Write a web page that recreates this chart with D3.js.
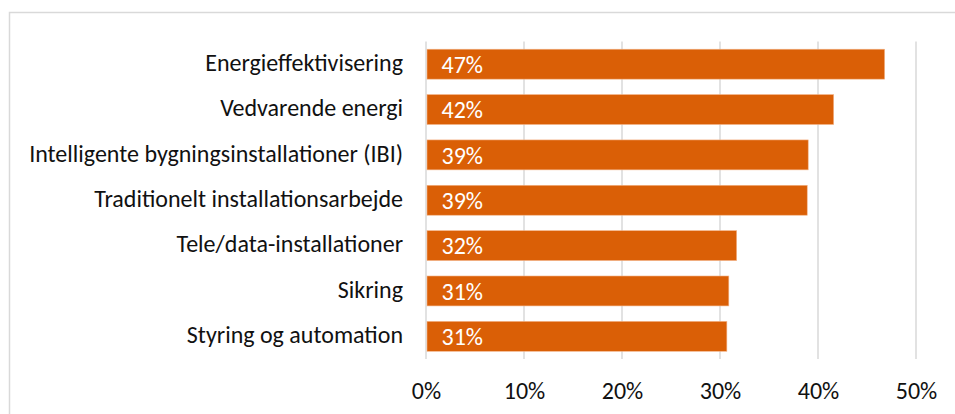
<!DOCTYPE html>
<html lang="da">
<head>
  <meta charset="UTF-8" />
  <title>Kompetenceområder</title>
  <script src="https://d3js.org/d3.v7.min.js"></script>
  <style>
    body { margin: 0; background: #fff; }
    svg { display: block; font-family: Carlito, Calibri, "Open Sans", sans-serif; }
  </style>
</head>
<body>
  <svg width="955" height="414"></svg>
  <script>
    const categories = [
      "Energieffektivisering",
      "Vedvarende energi",
      "Intelligente bygningsinstallationer (IBI)",
      "Traditionelt installationsarbejde",
      "Tele/data-installationer",
      "Sikring",
      "Styring og automation"
    ];
    const values = [46.8, 41.6, 39.0, 38.9, 31.7, 30.9, 30.7];
    const labels = ["47%", "42%", "39%", "39%", "32%", "31%", "31%"];
    const ticks = [0, 10, 20, 30, 40, 50];

    const font = 'Carlito, Calibri, "Open Sans", sans-serif';
    const svg = d3.select("svg");

    // chart frame (right/bottom run off the picture)
    svg.append("rect")
      .attr("x", 9.5).attr("y", 12.5)
      .attr("width", 980).attr("height", 440)
      .attr("fill", "none")
      .attr("stroke", "#d9d9d9")
      .attr("stroke-width", 1.5);

    const x = d3.scaleLinear().domain([0, 50]).range([426, 916]);
    const y = d3.scaleBand().domain(categories).range([41.5, 359]).paddingInner(0.34).paddingOuter(0.17);

    // gridlines
    svg.append("g").selectAll("line")
      .data(ticks)
      .enter().append("line")
      .attr("x1", d => x(d)).attr("x2", d => x(d))
      .attr("y1", 41.5).attr("y2", 359)
      .attr("stroke", "#d9d9d9")
      .attr("stroke-width", 1.5);

    // bars
    svg.append("g").selectAll("rect")
      .data(values)
      .enter().append("rect")
      .attr("x", x(0) + 1)
      .attr("y", (d, i) => y(categories[i]))
      .attr("width", d => x(d) - x(0) - 1)
      .attr("height", y.bandwidth())
      .attr("fill", "#da5f06")
      .attr("stroke", "#f3b58a")
      .attr("stroke-width", 0.6);

    // value labels inside bars
    svg.append("g").selectAll("text")
      .data(labels)
      .enter().append("text")
      .attr("x", x(0) + 15.5)
      .attr("y", (d, i) => y(categories[i]) + y.bandwidth() / 2)
      .attr("dy", "0.37em")
      .attr("fill", "#fff")
      .attr("font-size", 24)
      .attr("font-family", font)
      .text(d => d);

    // category labels
    const yAxis = svg.append("g")
      .attr("transform", `translate(${x(0)},0)`)
      .call(d3.axisLeft(y).tickSize(0).tickPadding(23));
    yAxis.select(".domain").remove();
    yAxis.selectAll("text")
      .attr("font-size", 24)
      .attr("dy", "0.28em")
      .attr("font-family", font)
      .attr("fill", "#111");

    // x axis tick labels
    const xAxis = svg.append("g")
      .attr("transform", "translate(0,359)")
      .call(d3.axisBottom(x).tickValues(ticks).tickFormat(d => d + "%").tickSize(0).tickPadding(23));
    xAxis.select(".domain").remove();
    xAxis.selectAll("text")
      .attr("font-size", 24)
      .attr("font-family", font)
      .attr("fill", "#111");
  </script>
</body>
</html>
